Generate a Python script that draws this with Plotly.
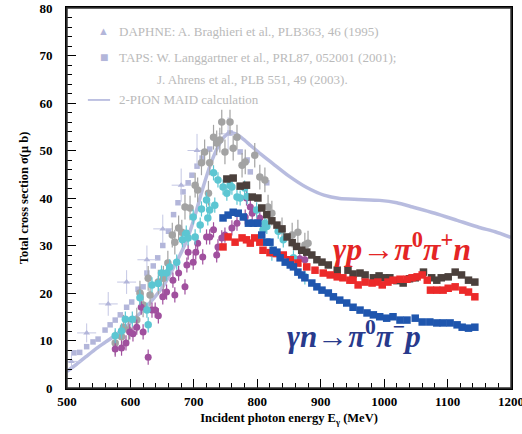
import plotly.graph_objects as go

# ---------------- data ----------------
maid_E = [500,515,530,545,560,575,590,605,620,635,651,665,680,690,700,714,726,738,748,757,766,776,790,805,825,850,878,905,930,960,993,1020,1045,1080,1115,1150,1175,1200]
maid_s = [3.5,5.0,6.6,8.2,9.6,11.0,12.6,14.4,16.4,18.6,21.3,24.6,28.5,31.5,35.5,42.0,47.0,50.8,52.9,53.8,53.5,52.6,51.0,49.3,47.2,44.6,42.2,40.6,39.9,39.7,39.5,39.0,38.1,36.8,35.3,33.8,32.9,31.7]

taps_E = [511,520,531,541,549,560,568,576,584,594,602,612,620,626,636,643,651,660,668,675,683,691,697,705,713,725,736,757,773,784,789,804,815]
taps_s = [7.4,7.5,8.7,9.7,10.3,12.2,13.3,14.3,15.4,17.0,18.1,20.8,21.3,24.2,25.7,27.4,30.0,33.0,36.5,39.0,41.3,43.2,44.8,46.7,48.4,50.3,51.6,53.7,49.7,48.0,45.5,44.4,43.2]

daphne_E = [507,531,565,594,626,651,680,705,754]
daphne_s = [5.6,11.6,17.7,22.3,27.0,33.5,42.7,50.0,53.5]
daphne_dE = [15,15,15,15,15,15,15,15,15]
daphne_ds = [1.5,2.0,2.5,2.5,3.0,3.0,3.5,3.5,3.5]

gray_E = [576,586,589,597,610,615,620,628,631,644,652,659,666,670,676,681,686,694,702,706,712,717,723,725,731,736,741,744,749,757,762,768,776,781,796,804,812,817,823,839,855,864,875,880]
gray_s = [9.5,10.8,12.8,12.2,14.3,20.0,17.5,23.1,19.6,22.3,23.1,26.3,32.2,30.7,33.7,32.8,38.1,37.9,42.7,41.7,47.4,49.7,41.0,47.4,52.8,51.6,52.2,56.0,49.7,56.0,50.5,52.8,46.9,47.6,49.0,44.4,43.8,38.1,36.8,33.3,32.2,32.8,30.1,30.5]

cyan_E = [576,586,592,603,615,626,628,634,644,649,657,662,673,682,688,691,699,702,710,712,720,722,725,731,733,738,746,752,757,760,768,773,780,784,799,809,812,815,823,833,841,857,875]
cyan_s = [11.0,12.0,14.5,14.5,19.0,16.4,13.3,21.7,22.0,24.2,24.2,25.5,26.5,31.2,32.6,31.6,36.0,31.8,34.3,37.7,39.6,35.8,37.5,45.3,38.5,43.8,42.3,41.0,42.7,42.3,40.2,40.0,42.1,40.3,37.5,33.3,34.7,34.0,28.4,33.0,31.2,27.4,23.4]

purple_E = [576,586,593,599,604,610,617,620,628,634,639,644,651,657,667,670,676,686,689,691,699,703,706,714,720,725,731,736,738,744,749,760,768,781,783,789,792,804,867,875]
purple_s = [8.2,8.4,9.5,11.8,11.4,12.8,17.0,11.8,6.5,16.4,16.4,15.2,19.2,20.2,22.7,19.6,24.2,21.3,25.9,28.6,26.5,28.6,30.5,27.6,31.8,31.8,33.3,28.0,29.7,31.6,32.2,33.7,34.7,36.0,40.0,38.1,36.8,35.8,27.2,27.0]

dark_E = [752,762,773,783,792,801,807,815,823,831,839,847,855,862,870,878,886,894,902,912,926,943,951,962,970,983,992,1001,1009,1020,1030,1040,1049,1062,1075,1083,1090,1101,1112,1122,1133,1143]
dark_s = [44.0,44.2,42.5,42.7,40.2,40.0,37.9,36.5,35.2,34.3,33.5,31.8,30.6,29.8,29.0,28.6,28.0,27.0,26.5,25.9,24.8,24.8,24.0,24.2,23.8,23.2,23.6,23.2,23.2,22.6,22.1,23.0,23.2,24.4,23.2,22.7,23.2,23.4,24.4,23.8,22.7,22.3]

red_E = [746,754,765,776,783,789,796,804,809,820,830,841,852,864,878,891,904,915,926,935,946,951,959,970,981,990,997,1006,1014,1025,1036,1044,1052,1060,1068,1073,1083,1093,1101,1112,1124,1133,1143]
red_s = [29.7,31.8,30.7,31.6,31.2,30.5,31.6,30.7,29.0,28.5,28.3,28.0,27.0,26.3,25.5,24.8,24.2,23.8,23.4,23.2,22.7,22.7,21.7,22.3,22.1,22.3,21.7,22.3,22.7,22.9,22.9,23.2,23.4,23.8,22.7,20.6,20.6,20.6,21.0,21.3,20.6,20.2,19.2]

blue_E = [746,754,762,770,778,786,794,801,807,815,820,825,831,836,844,852,857,864,870,875,886,894,902,912,920,930,941,951,962,973,983,993,1004,1014,1025,1036,1049,1060,1072,1083,1093,1104,1115,1123,1133,1143]
blue_s = [35.8,36.4,37.0,36.8,36.0,34.7,34.7,34.7,32.2,30.7,30.7,29.0,28.6,27.4,26.5,25.9,25.5,24.4,23.8,23.2,22.1,21.3,20.6,20.0,19.2,18.5,17.9,17.0,16.4,15.8,15.4,15.0,14.7,15.0,14.3,14.3,14.7,13.9,13.9,13.7,13.7,13.7,13.3,12.8,12.6,12.8]

x_ticks = [500,600,700,800,900,1000,1100,1200]
y_ticks = [0,10,20,30,40,50,60,70,80]

# ---------------- styles ----------------
LAV = "rgba(160,166,212,0.75)"
LAV_M = "#b3b6da"
GRAY = "#a3a3a3"
CYAN = "#5cc6d2"
PURPLE = "#a0509e"
DARK = "#4b403c"
RED = "#ec2a2a"
BLUE = "#1f56ae"
SERIF = "Liberation Serif"

fig = go.Figure()

fig.add_trace(go.Scatter(x=maid_E, y=maid_s, mode="lines",
                         line=dict(color=LAV, width=3.5, shape="spline", smoothing=0.6),
                         hoverinfo="skip"))
fig.add_trace(go.Scatter(x=taps_E, y=taps_s, mode="markers",
                         marker=dict(symbol="square", size=5.5, color=LAV_M)))
fig.add_trace(go.Scatter(x=daphne_E, y=daphne_s, mode="markers",
                         marker=dict(symbol="triangle-up", size=6, color=LAV_M),
                         error_x=dict(type="data", array=daphne_dE, color="#c4c7e4", thickness=1, width=0),
                         error_y=dict(type="data", array=daphne_ds, color="#c4c7e4", thickness=1, width=0)))
fig.add_trace(go.Scatter(x=gray_E, y=gray_s, mode="markers",
                         marker=dict(symbol="circle", size=7.5, color=GRAY),
                         error_y=dict(type="constant", value=2.6, color=GRAY, thickness=1.2, width=0)))
fig.add_trace(go.Scatter(x=purple_E, y=purple_s, mode="markers",
                         marker=dict(symbol="circle", size=7, color=PURPLE),
                         error_y=dict(type="constant", value=1.6, color=PURPLE, thickness=1.2, width=0)))
fig.add_trace(go.Scatter(x=cyan_E, y=cyan_s, mode="markers",
                         marker=dict(symbol="circle", size=7.5, color=CYAN),
                         error_y=dict(type="constant", value=1.6, color=CYAN, thickness=1.2, width=0)))
fig.add_trace(go.Scatter(x=dark_E, y=dark_s, mode="markers",
                         marker=dict(symbol="square", size=7.5, color=DARK)))
fig.add_trace(go.Scatter(x=red_E, y=red_s, mode="markers",
                         marker=dict(symbol="square", size=7.5, color=RED)))
fig.add_trace(go.Scatter(x=blue_E, y=blue_s, mode="markers",
                         marker=dict(symbol="square", size=7.5, color=BLUE)))

# ---------------- legend (annotations) ----------------
LEG_C = "#bababa"
ann = []
def txt(x, y, s, color=LEG_C, size=13, xanchor="left"):
    ann.append(dict(xref="paper", yref="paper", x=x, y=y, text=s, showarrow=False,
                    xanchor=xanchor, yanchor="middle",
                    font=dict(family=SERIF, size=size, color=color)))

txt(0.083, 0.939, "▲", color=LAV_M, size=11, xanchor="center")
txt(0.112, 0.939, "DAPHNE: A. Braghieri et al., PLB363, 46 (1995)")
txt(0.083, 0.871, "■", color=LAV_M, size=14, xanchor="center")
txt(0.112, 0.871, "TAPS: W. Langgartner et al., PRL87, 052001 (2001);")
txt(0.198, 0.813, "J. Ahrens et al., PLB 551, 49 (2003).")
txt(0.112, 0.758, "2-PION MAID calculation")

# reaction labels
ann.append(dict(xref="paper", yref="paper", x=0.594, y=0.372,
                text="<b><i>γp</i>→<i>π</i><sup>0</sup><i>π</i><sup>+</sup><i>n</i></b>",
                showarrow=False, xanchor="left", yanchor="middle",
                font=dict(family=SERIF, size=32, color="#e42525")))
ann.append(dict(xref="paper", yref="paper", x=0.49, y=0.14,
                text="<b><i>γn</i>→<i>π</i><sup>0</sup><i>π</i><sup>−</sup><i>p</i></b>",
                showarrow=False, xanchor="left", yanchor="middle",
                font=dict(family=SERIF, size=31, color="#283a8c")))

shapes = [
    dict(type="line", xref="paper", yref="paper", x0=0.047, x1=0.097, y0=0.758, y1=0.758,
         line=dict(color=LAV, width=1.8)),
    # frame of the plotting area
    dict(type="rect", xref="paper", yref="paper", x0=0, x1=1, y0=0, y1=1,
         line=dict(color="#333333", width=1.5), fillcolor="rgba(0,0,0,0)", layer="above"),
]

fig.update_layout(
    width=522, height=434,
    margin=dict(l=67, r=11, t=8, b=46, autoexpand=False),
    paper_bgcolor="white", plot_bgcolor="white",
    showlegend=False,
    annotations=ann, shapes=shapes,
    font=dict(family=SERIF, color="black"),
)
fig.update_xaxes(range=[500, 1200], tickvals=x_ticks, ticks="inside", ticklen=9, tickwidth=1.2,
                 tickcolor="black", showgrid=False, zeroline=False, automargin=False,
                 ticklabeloverflow="allow",
                 showline=True, linecolor="black", linewidth=2, mirror=True,
                 minor=dict(dtick=20, ticks="inside", ticklen=5, tickwidth=1, tickcolor="black", showgrid=False),
                 tickfont=dict(family=SERIF, size=13, color="black", weight="bold"),
                 title=dict(text="Incident photon energy E<sub>γ</sub> (MeV)", standoff=6,
                            font=dict(family=SERIF, size=12.5, color="black", weight="bold")))
fig.update_yaxes(range=[0, 80], tickvals=y_ticks, ticks="inside", ticklen=9, tickwidth=1.2,
                 tickcolor="black", showgrid=False, zeroline=False, automargin=False,
                 ticklabeloverflow="allow",
                 showline=True, linecolor="black", linewidth=2, mirror=True,
                 minor=dict(dtick=2, ticks="inside", ticklen=5, tickwidth=1, tickcolor="black", showgrid=False),
                 ticklabelstandoff=10,
                 tickfont=dict(family=SERIF, size=13, color="black", weight="bold"),
                 title=dict(text="Total cross section σ(μ b)", standoff=8,
                            font=dict(family=SERIF, size=12.5, color="black", weight="bold")))

# remove the browser's default 8 px body margin so the 522x434 figure fills the window
fig.write_html("out.html", config={"displayModeBar": False},
               post_script="document.body.style.margin='0';")
